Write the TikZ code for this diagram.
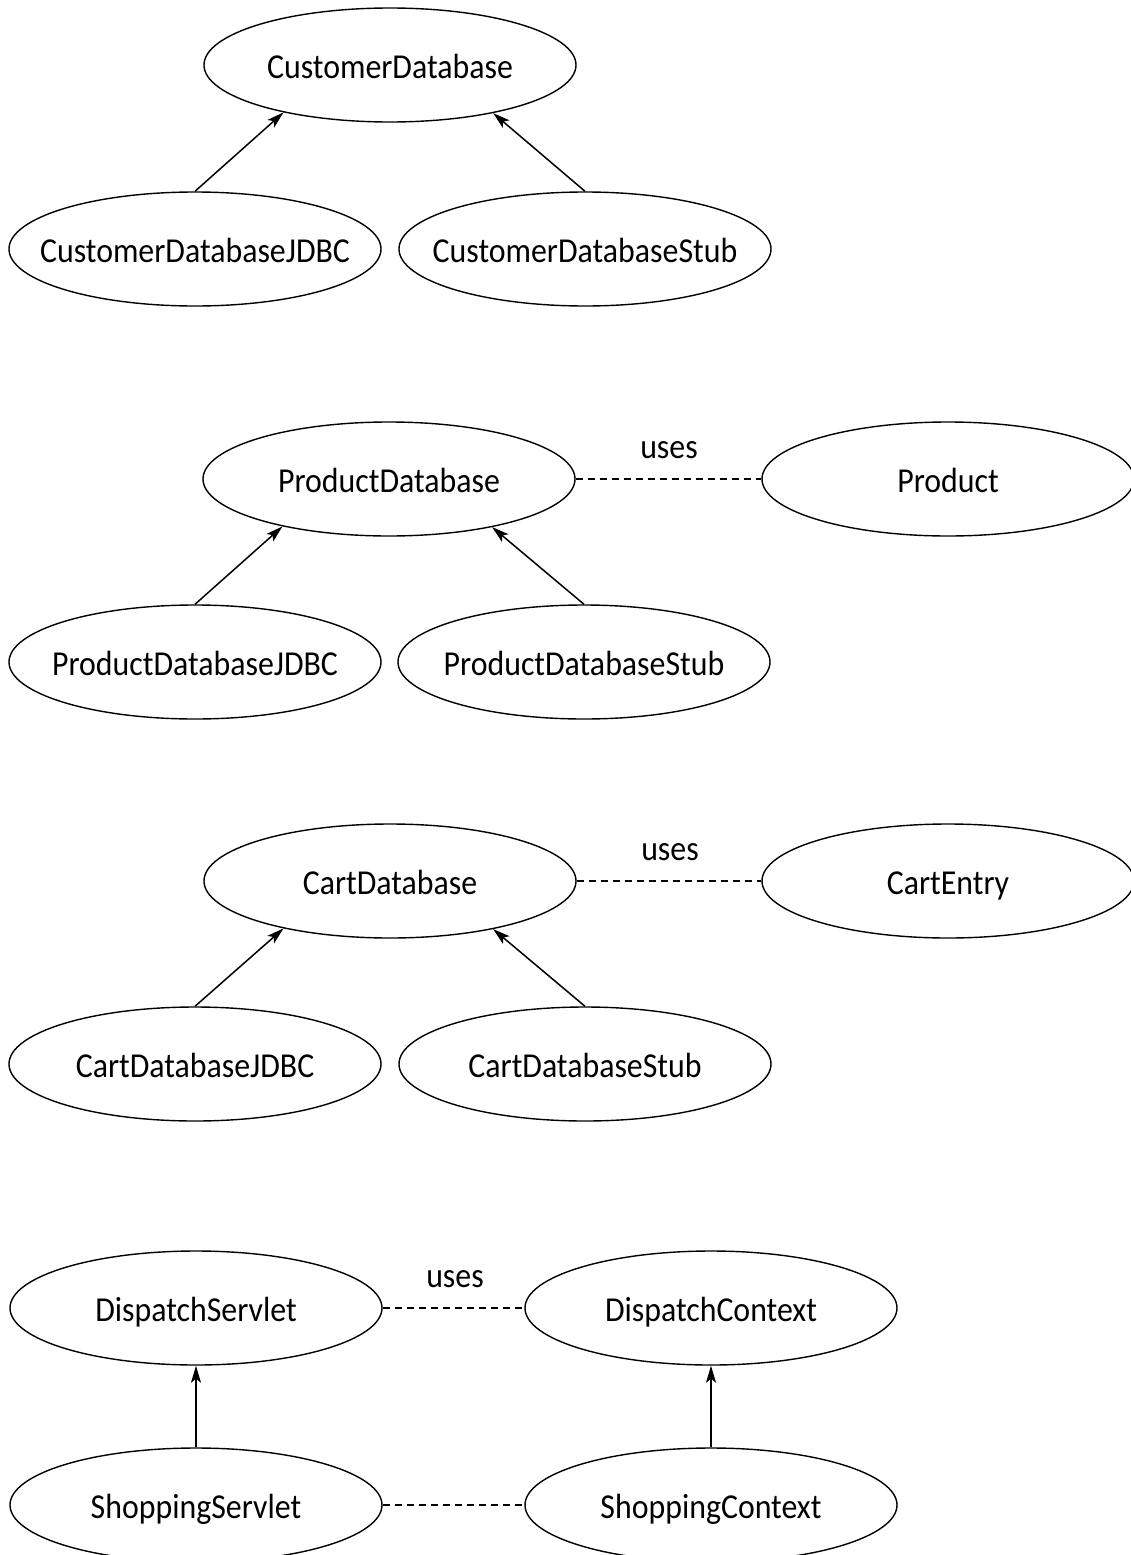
\documentclass[tikz,border=0pt]{standalone}
\usepackage{fontspec}
\setmainfont{Carlito}[FakeStretch=0.91]
\usetikzlibrary{shapes.geometric,arrows.meta}
\newcommand{\zw}[1]{\makebox[0pt]{#1}}
\tikzset{
  cls/.style={ellipse,draw,line width=1.4pt,minimum width=372pt,minimum height=114pt,inner sep=0pt,text height=30pt,text depth=4pt,font=\fontsize{35}{40}\selectfont},
  lbl/.style={inner sep=0pt,font=\fontsize{35}{40}\selectfont},
  inh/.style={line width=1.5pt,-{Stealth[length=17pt,width=10pt,inset=4pt]}},
  usesline/.style={line width=1.4pt,dash pattern=on 7pt off 5pt}
}
\begin{document}
\begin{tikzpicture}[x=1pt,y=-1pt]
\useasboundingbox (0,0) rectangle (1130,1555);
% row 1
\node[cls] (cdb) at (390,65) {\zw{CustomerDatabase}};
\node[cls] (cdbj) at (195,249) {\zw{CustomerDatabaseJDBC}};
\node[cls] (cdbs) at (585,249) {\zw{CustomerDatabaseStub}};
\draw[inh] (cdbj.north) -- (cdb.204.5);
\draw[inh] (cdbs.north) -- (cdb.335.5);
% row 2
\node[cls] (pdb) at (389,479) {\zw{ProductDatabase}};
\node[cls] (prod) at (948,479) {\zw{Product}};
\node[cls] (pdbj) at (195,662) {\zw{ProductDatabaseJDBC}};
\node[cls] (pdbs) at (584,662) {\zw{ProductDatabaseStub}};
\node[lbl] (u1) at (669,450) {uses};
\draw[usesline] (pdb.east) -- (prod.west);
\draw[inh] (pdbj.north) -- (pdb.204.5);
\draw[inh] (pdbs.north) -- (pdb.335.5);
% row 3
\node[cls] (cartdb) at (390,881) {\zw{CartDatabase}};
\node[cls] (cartentry) at (948,881) {\zw{CartEntry}};
\node[cls] (cartj) at (195,1064) {\zw{CartDatabaseJDBC}};
\node[cls] (carts) at (585,1064) {\zw{CartDatabaseStub}};
\node[lbl] (u2) at (670,852) {uses};
\draw[usesline] (cartdb.east) -- (cartentry.west);
\draw[inh] (cartj.north) -- (cartdb.204.5);
\draw[inh] (carts.north) -- (cartdb.335.5);
% row 4
\node[cls] (ds) at (196,1308) {\zw{DispatchServlet}};
\node[cls] (dc) at (711,1308) {\zw{DispatchContext}};
\node[cls] (ss) at (196,1505) {\zw{ShoppingServlet}};
\node[cls] (sc) at (711,1505) {\zw{ShoppingContext}};
\node[lbl] (u3) at (455,1279) {uses};
\draw[usesline] (ds.east) -- (dc.west);
\draw[usesline] (ss.east) -- (sc.west);
\draw[inh] (ss.north) -- (ds.south);
\draw[inh] (sc.north) -- (dc.south);
\end{tikzpicture}
\end{document}
